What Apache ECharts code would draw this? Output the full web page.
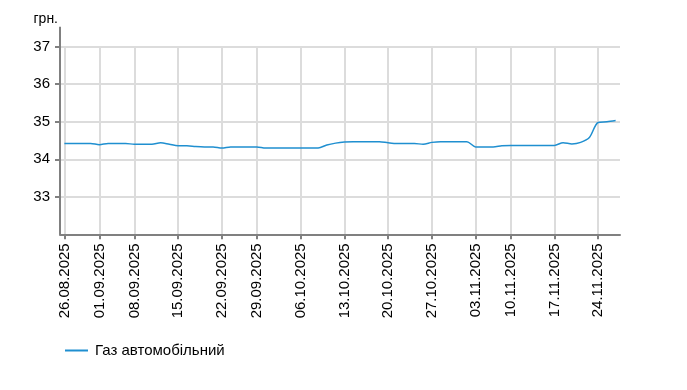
<!DOCTYPE html>
<html>
<head>
<meta charset="utf-8">
<script src="https://cdn.jsdelivr.net/npm/echarts@6/dist/echarts.min.js"></script>
<style>html,body{margin:0;padding:0;background:#fff}#c{width:687px;height:390px}</style>
</head>
<body>
<div id="c"></div>
<script>
const dates = [
 '26.08.2025','27.08.2025','28.08.2025','29.08.2025',
 '01.09.2025','02.09.2025','03.09.2025','04.09.2025',
 '08.09.2025','09.09.2025','10.09.2025','11.09.2025','12.09.2025',
 '15.09.2025','16.09.2025','17.09.2025','18.09.2025','19.09.2025',
 '22.09.2025','23.09.2025','24.09.2025','25.09.2025',
 '29.09.2025','30.09.2025','01.10.2025','02.10.2025','03.10.2025',
 '06.10.2025','07.10.2025','08.10.2025','09.10.2025','10.10.2025',
 '13.10.2025','14.10.2025','15.10.2025','16.10.2025','17.10.2025',
 '20.10.2025','21.10.2025','22.10.2025','23.10.2025','24.10.2025',
 '27.10.2025','28.10.2025','29.10.2025','30.10.2025','31.10.2025',
 '03.11.2025','04.11.2025','05.11.2025','06.11.2025',
 '10.11.2025','11.11.2025','12.11.2025','13.11.2025','14.11.2025',
 '17.11.2025','18.11.2025','19.11.2025','20.11.2025','21.11.2025',
 '24.11.2025','25.11.2025','26.11.2025'
];
const gasPrices = [
 34.42,34.42,34.42,34.42,
 34.39,34.42,34.42,34.42,
 34.40,34.40,34.40,34.44,34.40,
 34.36,34.36,34.34,34.33,34.33,
 34.30,34.33,34.33,34.33,
 34.33,34.30,34.30,34.30,34.30,
 34.30,34.30,34.30,34.38,34.43,
 34.46,34.47,34.47,34.47,34.47,
 34.44,34.42,34.42,34.42,34.40,
 34.45,34.47,34.47,34.47,34.47,
 34.33,34.33,34.33,34.36,
 34.37,34.37,34.37,34.37,34.37,
 34.37,34.44,34.41,34.45,34.58,
 34.98,35.00,35.03
];
const labeledDates = ['26.08.2025','01.09.2025','08.09.2025','15.09.2025','22.09.2025','29.09.2025',
 '06.10.2025','13.10.2025','20.10.2025','27.10.2025','03.11.2025','10.11.2025','17.11.2025','24.11.2025'];
const seriesName = 'Газ автомобільний';
const unitName = 'грн.';

const isLabeled = (idx) => labeledDates.indexOf(dates[idx]) >= 0;
const FONT = 'Liberation Sans, Arial, sans-serif';
const chart = echarts.init(document.getElementById('c'), null, {renderer: 'canvas'});
chart.setOption({
  animation: false,
  grid: {left: 60, right: 67, top: 46.7, bottom: 155.7},
  legend: {
    left: 65, top: 343, padding: 0,
    icon: 'rect', itemWidth: 23, itemHeight: 2, itemGap: 10,
    textStyle: {fontFamily: FONT, fontSize: 15, color: '#000', padding: [0, 0, 0, 2]},
    data: [seriesName]
  },
  xAxis: {
    type: 'category',
    data: dates,
    boundaryGap: true,
    axisLine: {lineStyle: {color: '#808080', width: 2}},
    axisTick: {show: true, alignWithLabel: true, interval: (i) => isLabeled(i), length: 5, lineStyle: {color: '#808080', width: 2}},
    axisLabel: {interval: (i) => isLabeled(i), rotate: 90, margin: 9, fontFamily: FONT, fontSize: 15, color: '#000'},
    splitLine: {show: true, alignWithLabel: true, interval: (i) => isLabeled(i), lineStyle: {color: '#dcdcdc', width: 2}}
  },
  yAxis: {
    type: 'value',
    min: 32, max: 37, interval: 1,
    name: unitName,
    nameLocation: 'end',
    nameGap: 21,
    nameTextStyle: {fontFamily: FONT, fontSize: 14, color: '#000', align: 'right', padding: [0, 2, 0, 0]},
    axisLine: {show: true, lineStyle: {color: '#808080', width: 2}, symbol: ['none', 'rect'], symbolSize: [2, 40]},
    axisTick: {show: true, length: 5, lineStyle: {color: '#808080', width: 2}},
    axisLabel: {showMinLabel: false, margin: 10, fontFamily: FONT, fontSize: 15, color: '#000'},
    splitLine: {show: true, showMinLine: false, lineStyle: {color: '#dcdcdc', width: 2}}
  },
  series: [{
    name: seriesName,
    type: 'line',
    data: gasPrices,
    symbol: 'none',
    smooth: 0.3,
    lineStyle: {color: '#1f8fd0', width: 1.5},
    itemStyle: {color: '#1f8fd0'}
  }]
});
</script>
</body>
</html>
